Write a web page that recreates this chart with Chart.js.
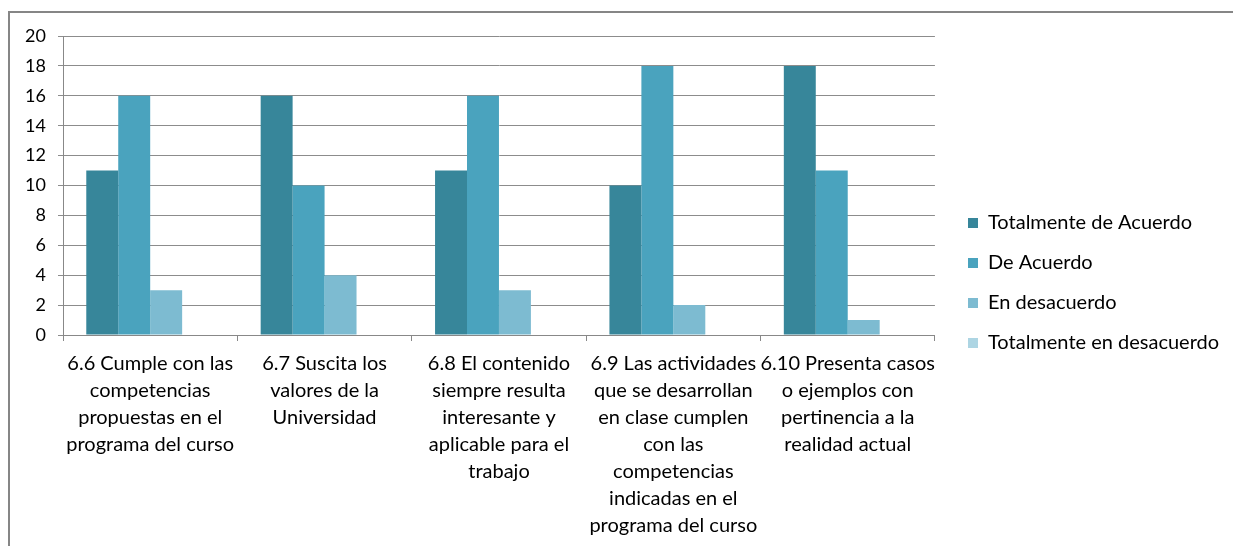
<!DOCTYPE html>
<html lang="es">
<head>
    <meta charset="UTF-8">
    <title>Evaluación del curso</title>
    <script src="https://cdn.jsdelivr.net/npm/chart.js"></script>
    <style>
        body { margin: 0; background: #fff; overflow: hidden; }
        #marco { position: absolute; left: 8px; top: 11px; width: 1400px; height: 700px; border: 2px solid #868686; }
        #caja { position: absolute; left: 0; top: 0; width: 1233px; height: 546px; }
    </style>
</head>
<body>
    <div id="marco"></div>
    <div id="caja"><canvas id="myChart" width="1233" height="546"></canvas></div>

    <script>
// categorias (cada una partida en lineas, como en la imagen)
const categorias = [
    ['6.6 Cumple con las', 'competencias', 'propuestas en el', 'programa del curso'],
    ['6.7 Suscita los', 'valores de la', 'Universidad'],
    ['6.8 El contenido', 'siempre resulta', 'interesante y', 'aplicable para el', 'trabajo'],
    ['6.9 Las actividades', 'que se desarrollan', 'en clase cumplen', 'con las', 'competencias', 'indicadas en el', 'programa del curso'],
    ['6.10 Presenta casos', 'o ejemplos con', 'pertinencia a la', 'realidad actual']
];
const series = ['Totalmente de Acuerdo', 'De Acuerdo', 'En desacuerdo', 'Totalmente en desacuerdo'];
const totalmenteDeAcuerdo = [11, 16, 11, 10, 18];
const deAcuerdo = [16, 10, 16, 18, 11];
const enDesacuerdo = [3, 4, 3, 2, 1];
const totalmenteEnDesacuerdo = [0, 0, 0, 0, 0];
const colores = ['#37869a', '#4aa3be', '#7dbbd1', '#add5e3'];

const valores = [totalmenteDeAcuerdo, deAcuerdo, enDesacuerdo, totalmenteEnDesacuerdo];

Chart.defaults.font.family = 'Lato, "Noto Sans", sans-serif';
Chart.defaults.font.size = 20;
Chart.defaults.color = '#000';

// mueve un poco la leyenda para que quede como en la imagen
const moverLeyenda = {
    id: 'moverLeyenda',
    afterLayout(chart) {
        const lg = chart.legend;
        const dx = 968 - 20 - lg.left;
        lg.left += dx; lg.right += dx;
        lg.top -= 8; lg.bottom -= 8;
    }
};

var ctx = document.getElementById('myChart').getContext('2d');
var myChart = new Chart(ctx, {
    type: 'bar',
    data: {
        labels: categorias,
        datasets: series.map((s, i) => ({
            label: s,
            data: valores[i],
            backgroundColor: colores[i],
            borderWidth: 0,
            categoryPercentage: 0.733,
            barPercentage: 1
        }))
    },
    plugins: [moverLeyenda],
    options: {
        responsive: false,
        animation: false,
        layout: { padding: { top: 36, left: 0, right: 17, bottom: 0 } },
        plugins: {
            tooltip: { enabled: false },
            legend: {
                position: 'right',
                labels: {
                    boxWidth: 10,
                    boxHeight: 10,
                    padding: 20,
                    font: { size: 20 }
                }
            }
        },
        scales: {
            x: {
                grid: { display: true, drawOnChartArea: false, offset: true, tickLength: 6, color: '#888' },
                border: { color: '#888' },
                ticks: { maxRotation: 0, autoSkip: false, padding: 9, font: { size: 20, lineHeight: 1.35 } },
                afterFit: scale => { scale.height = 211; }
            },
            y: {
                min: 0,
                max: 20,
                ticks: { stepSize: 2, padding: 12, font: { size: 18 } },
                grid: { color: '#8c8c8c', tickLength: 5 },
                border: { color: '#888' },
                afterFit: scale => { scale.width = 63; }
            }
        }
    }
});
    </script>
</body>
</html>
